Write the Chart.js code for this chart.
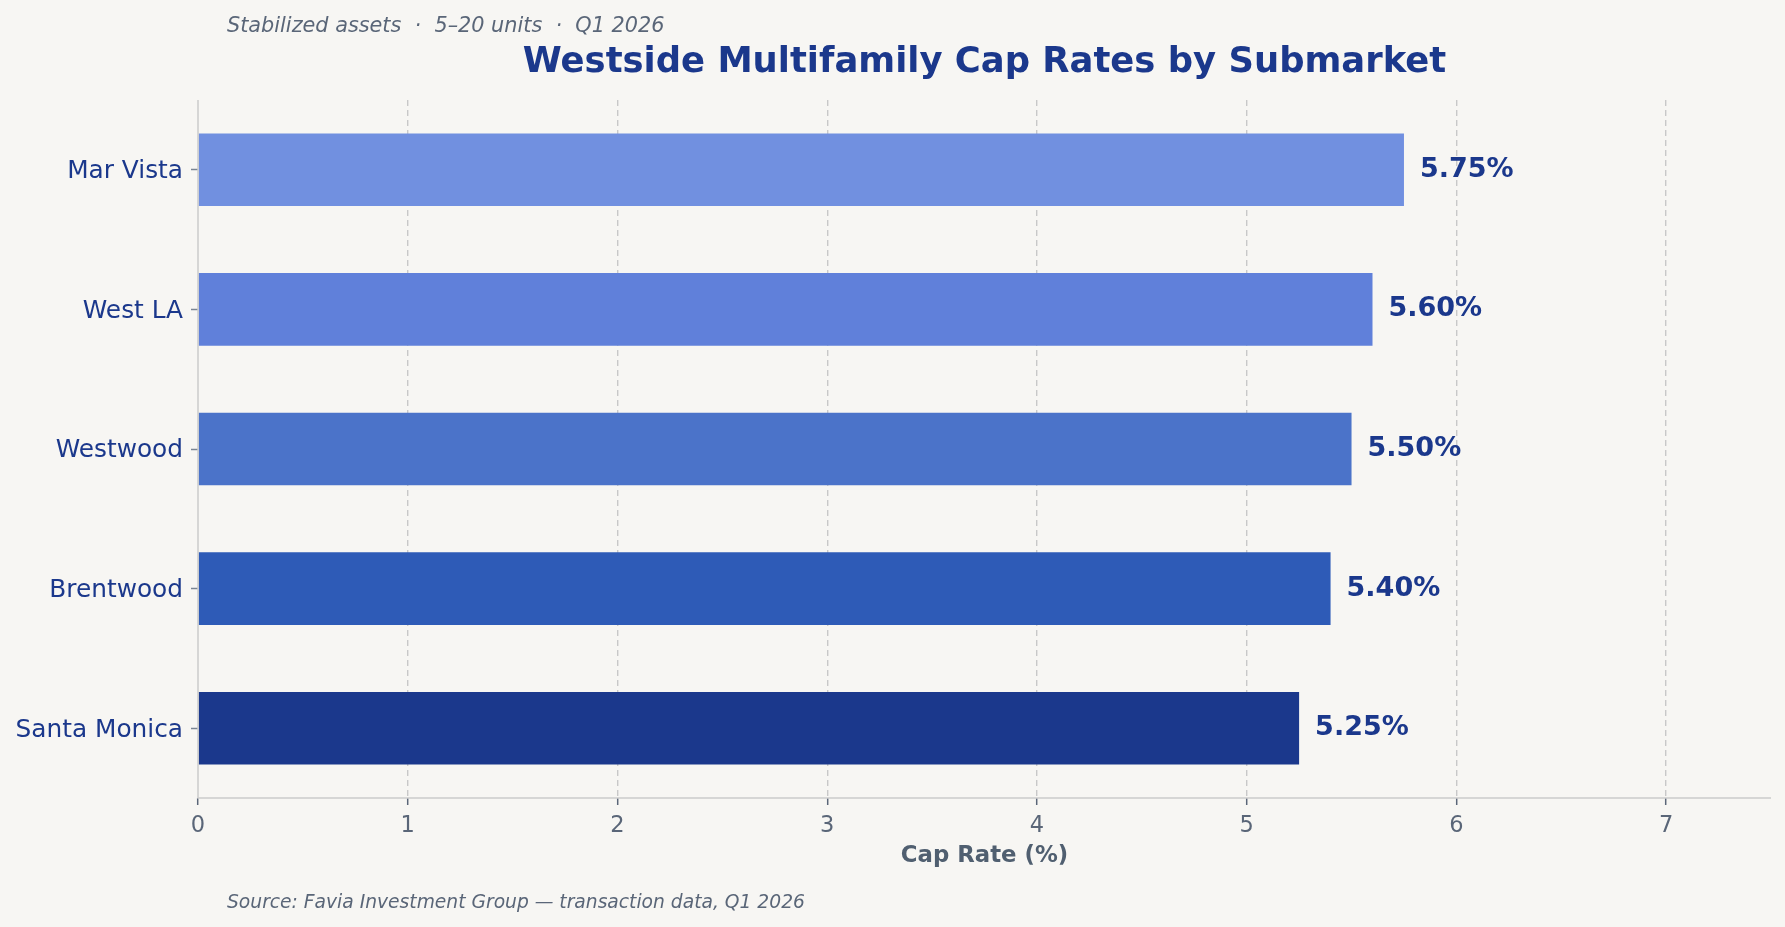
<!DOCTYPE html>
<html>
<head>
<meta charset="utf-8">
<script src="https://cdn.jsdelivr.net/npm/chart.js"></script>
<style>
  html, body { margin: 0; padding: 0; background: #f7f6f3; }
  canvas { display: block; }
</style>
</head>
<body>
<canvas id="capChart" width="1785" height="927"></canvas>
<script>
const submarkets = ["Mar Vista", "West LA", "Westwood", "Brentwood", "Santa Monica"];
const capRates = [5.75, 5.60, 5.50, 5.40, 5.25];
const barColors = ["#7190e0", "#6080da", "#4b73c9", "#2e5bb7", "#1b388c"];
const xTicks = [0, 1, 2, 3, 4, 5, 6, 7];

const FONT = "'DejaVu Sans', Verdana, sans-serif";
const NAVY = "#1b388c";
const SLATE = "#5a6678";

// titles, source line, axis title, value labels and solid spines
const textPlugin = {
  id: "texts",
  afterDatasetsDraw(chart) {
    const { ctx, chartArea, scales } = chart;
    const cx = (chartArea.left + chartArea.right) / 2;
    ctx.save();

    // spines (drawn here so the dashed grid style does not reach them)
    ctx.strokeStyle = "#cccccc";
    ctx.lineWidth = 1.5;
    ctx.beginPath();
    ctx.moveTo(chartArea.left, chartArea.top);
    ctx.lineTo(chartArea.left, chartArea.bottom);
    ctx.lineTo(chartArea.right, chartArea.bottom);
    ctx.stroke();

    ctx.fillStyle = NAVY;
    ctx.font = "bold 35.4px " + FONT;
    ctx.textAlign = "center";
    ctx.textBaseline = "alphabetic";
    ctx.fillText("Westside Multifamily Cap Rates by Submarket", cx, 72);

    ctx.fillStyle = SLATE;
    ctx.font = "italic 20.8px " + FONT;
    ctx.textAlign = "left";
    ctx.fillText("Stabilized assets  \u00b7  5\u201320 units  \u00b7  Q1 2026", 227, 32);

    ctx.font = "italic 18.7px " + FONT;
    ctx.fillText("Source: Favia Investment Group \u2014 transaction data, Q1 2026", 227, 908);

    ctx.fillStyle = "#505f70";
    ctx.font = "bold 22.8px " + FONT;
    ctx.textAlign = "center";
    ctx.textBaseline = "middle";
    ctx.fillText("Cap Rate (%)", cx, 856);

    // value labels at bar ends
    ctx.fillStyle = NAVY;
    ctx.font = "bold 27px " + FONT;
    ctx.textAlign = "left";
    capRates.forEach((v, i) => {
      const x = scales.x.getPixelForValue(v) + 16;
      const y = scales.y.getPixelForValue(i);
      ctx.fillText(v.toFixed(2) + "%", x, y);
    });
    ctx.restore();
  }
};

new Chart(document.getElementById("capChart"), {
  type: "bar",
  data: {
    labels: submarkets,
    datasets: [{
      data: capRates,
      backgroundColor: barColors,
      borderWidth: 0,
      barPercentage: 0.52,
      categoryPercentage: 1.0
    }]
  },
  options: {
    indexAxis: "y",
    responsive: false,
    animation: false,
    layout: { padding: { top: 100, right: 14, bottom: 0, left: 0 } },
    plugins: {
      legend: { display: false },
      tooltip: { enabled: false }
    },
    scales: {
      x: {
        min: 0,
        max: 7.5,
        afterBuildTicks(scale) {
          scale.ticks = xTicks.map(v => ({ value: v }));
        },
        afterFit(scale) { scale.height = 129; },
        border: { display: false, dash: [6, 4] },
        grid: {
          color: (c) => (c.tick && c.tick.value === 0 ? "rgba(0,0,0,0)" : "#c8c8c8"),
          lineWidth: 1.4,
          tickBorderDash: [],
          tickColor: SLATE,
          tickLength: 7,
          tickWidth: 1.5
        },
        ticks: {
          color: SLATE,
          font: { family: FONT, size: 22.5 },
          padding: 8
        }
      },
      y: {
        afterFit(scale) { scale.width = 198; },
        border: { display: false },
        grid: {
          drawOnChartArea: false,
          offset: false,
          tickColor: "#7a8594",
          tickLength: 7,
          tickWidth: 1.5
        },
        ticks: {
          color: NAVY,
          font: { family: FONT, size: 24.8 },
          padding: 8,
          labelOffset: 2
        }
      }
    }
  },
  plugins: [textPlugin]
});
</script>
</body>
</html>
